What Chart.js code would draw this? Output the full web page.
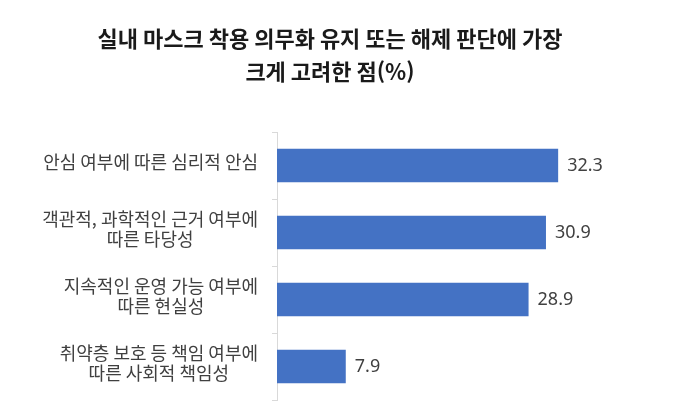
<!DOCTYPE html>
<html lang="ko">
<head>
<meta charset="utf-8">
<script src="https://cdn.jsdelivr.net/npm/chart.js@4.4.1/dist/chart.umd.min.js"></script>
<style>
    html, body { margin: 0; padding: 0; background: #fff; }
    #wrap { width: 680px; height: 420px; position: relative; }
</style>
</head>
<body>
<div id="wrap"><canvas id="chart"></canvas></div>
<script>
const titleLines = ['실내 마스크 착용 의무화 유지 또는 해제 판단에 가장', '크게 고려한 점(%)'];
const categories = [
    ['안심 여부에 따른 심리적 안심'],
    ['객관적, 과학적인 근거 여부에', '따른 타당성'],
    ['지속적인 운영 가능 여부에', '따른 현실성'],
    ['취약층 보호 등 책임 여부에', '따른 사회적 책임성']
];
const values = [32.3, 30.9, 28.9, 7.9];

const barColor = '#4472C4';
const textColor = '#404040';
const krFont = "'Noto Sans CJK KR', 'Noto Sans', sans-serif";

// value at the end of each bar
const valueLabels = {
    id: 'valueLabels',
    afterDatasetsDraw(chart) {
        const ctx = chart.ctx;
        const meta = chart.getDatasetMeta(0);
        ctx.save();
        ctx.font = "18px 'Noto Sans', sans-serif";
        ctx.fillStyle = textColor;
        ctx.textAlign = 'left';
        ctx.textBaseline = 'middle';
        meta.data.forEach((bar, i) => {
            ctx.fillText(values[i].toFixed(1), bar.x + 9, bar.y);
        });
        ctx.restore();
    }
};

// category labels: block right-aligned, lines centred inside the block
const categoryLabels = {
    id: 'categoryLabels',
    afterDraw(chart) {
        const ctx = chart.ctx;
        const yScale = chart.scales.y;
        ctx.save();
        ctx.font = '18px ' + krFont;
        ctx.fillStyle = textColor;
        ctx.textAlign = 'center';
        ctx.textBaseline = 'middle';
        categories.forEach((lines, i) => {
            const yc = yScale.getPixelForTick(i);
            const w = Math.max(...lines.map(l => ctx.measureText(l).width));
            const cx = yScale.right - 19 - w / 2;
            lines.forEach((line, j) => {
                ctx.fillText(line, cx, yc - 3 + (j - (lines.length - 1) / 2) * 20);
            });
        });
        ctx.restore();
    }
};

Chart.defaults.font.family = krFont;

new Chart(document.getElementById('chart'), {
    type: 'bar',
    data: {
        labels: categories.map(c => c.join(' ')),
        datasets: [{
            data: values,
            backgroundColor: barColor,
            borderWidth: 0,
            categoryPercentage: 1,
            barPercentage: 0.5
        }]
    },
    options: {
        indexAxis: 'y',
        responsive: true,
        maintainAspectRatio: false,
        animation: false,
        layout: { padding: { left: 0, right: 20, top: 0, bottom: 20 } },
        plugins: {
            legend: { display: false },
            tooltip: { enabled: false },
            title: {
                display: true,
                text: titleLines,
                color: '#1a1a1a',
                font: { size: 22, weight: 'bold', lineHeight: 1.5 },
                padding: { top: 22, bottom: 44 }
            }
        },
        scales: {
            x: { display: false, min: 0, max: 44 },
            y: {
                grid: { display: true, drawOnChartArea: false, offset: true, tickLength: 5, color: '#d9d9d9' },
                border: { display: true, color: '#d9d9d9' },
                ticks: { display: false },
                afterFit(scale) { scale.width = 277; }
            }
        }
    },
    plugins: [valueLabels, categoryLabels]
});
</script>
</body>
</html>
